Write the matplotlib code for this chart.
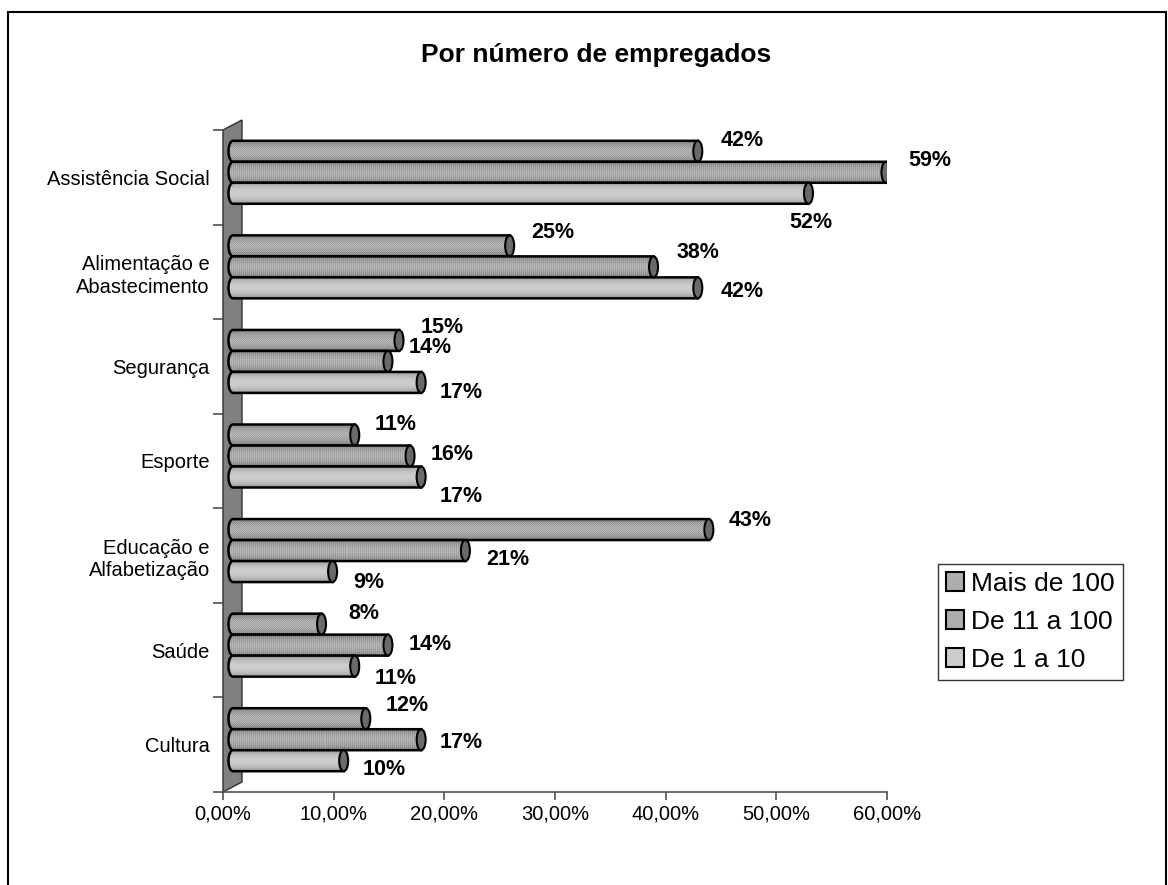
import numpy as np
import matplotlib.pyplot as plt
from matplotlib.patches import Polygon, Ellipse, Patch, Rectangle
from matplotlib.transforms import ScaledTranslation

plt.rcParams['font.family'] = ['Liberation Sans', 'DejaVu Sans']

# dados
categories = ['Assistência Social', 'Alimentação e\nAbastecimento', 'Segurança',
              'Esporte', 'Educação e\nAlfabetização', 'Saúde', 'Cultura']
series_names = ['Mais de 100', 'De 11 a 100', 'De 1 a 10']
mais_100 = [42, 25, 15, 11, 43, 8, 12]
de_11_100 = [59, 38, 14, 16, 21, 14, 17]
de_1_10 = [52, 42, 17, 17, 9, 11, 10]
xticks = [0, 10, 20, 30, 40, 50, 60]

# deslocamento dos rótulos (pixels) em relação ao fim de cada barra
label_dx = [[44, 44, 2], [43, 44, 44], [43, 42, 40], [41, 42, 40],
            [41, 42, 36], [42, 42, 41], [41, 40, 41]]
label_dy = [[-11, -12, 29], [-13, -14, 4], [-13, -14, 10], [-11, -1, 20],
            [-9, 9, 11], [-11, -1, 12], [-13, 3, 9]]

series = [mais_100, de_11_100, de_1_10]
base_grey = [0.68, 0.68, 0.80]

W, H = 1168, 885
fig = plt.figure(figsize=(W / 100, H / 100), dpi=100)
ax = fig.add_axes([223 / W, (H - 792) / H, 664 / W, 662 / H])
n = len(categories)
ax.set_xlim(0, 0.6)
ax.set_ylim(n, 0)
px_x = 664 / 0.6
px_y = 662 / n

# borda do gráfico
fig.patches.append(Rectangle((8 / W, -0.1), 1158 / W, (H - 12) / H + 0.1,
                             transform=fig.transFigure, fill=False,
                             edgecolor='black', lw=1.5))

# parede 3D
wall = Polygon([(0, 0), (19 / px_x, -10 / px_y), (19 / px_x, n - 10 / px_y), (0, n)],
               closed=True, facecolor='#808080', edgecolor='#303030', lw=1,
               clip_on=False, zorder=1)
ax.add_patch(wall)

depth = ScaledTranslation(10 / 100, 5 / 100, fig.dpi_scale_trans)
trans = ax.transData + depth

h = 21 / px_y
ew = 9 / px_x


def cylinder_image(ncols, base, kind):
    rows = 21
    t = (np.arange(rows) + 0.5) / rows
    prof = 0.66 + 0.34 * np.sin(np.pi * t) ** 0.6
    img = np.tile((prof * base)[:, None], (1, ncols))
    ii, jj = np.indices(img.shape)
    if kind == 0:
        img += 0.035 * (((ii + jj) % 2) * 2 - 1)
    elif kind == 1:
        img += 0.04 * ((jj % 2) * 2 - 1)
    return np.clip(img, 0, 1)


for i in range(n):
    for j, vals in enumerate(series):
        v = vals[i] / 100
        yc = i + 0.5 + (j - 1) * h
        y0, y1 = yc - h / 2, yc + h / 2
        ang = np.linspace(np.pi / 2, 3 * np.pi / 2, 30)
        left = [(ew / 2 * np.cos(a), yc - h / 2 * np.sin(a)) for a in ang]
        pts = left + [(v, y1), (v, y0)]
        outline = Polygon(pts, closed=True, fill=False, edgecolor='black',
                          lw=1.8, transform=trans, zorder=4 + i * 3 + j)
        ncols = max(int(v * px_x) + 6, 2)
        im = ax.imshow(cylinder_image(ncols, base_grey[j], j), cmap='gray',
                       vmin=0, vmax=1, interpolation='nearest', aspect='auto',
                       extent=(-ew / 2, v, y1, y0), origin='upper',
                       zorder=3 + i * 3 + j)
        im.set_transform(trans)
        clip = Polygon(pts, closed=True, transform=trans)
        im.set_clip_path(clip)
        ax.add_patch(outline)
        ax.add_patch(Ellipse((v, yc), ew, h, facecolor='#6a6a6a', edgecolor='black',
                             lw=1.5, transform=trans, zorder=4.5 + i * 3 + j))
        ax.annotate(f'{vals[i]}%', xy=(v, yc), xycoords=trans,
                    xytext=(label_dx[i][j], -label_dy[i][j]), textcoords='offset pixels',
                    ha='center', va='center', fontsize=15.5, fontweight='bold',
                    annotation_clip=False, zorder=40)

# eixos
for s in ['top', 'right', 'left']:
    ax.spines[s].set_visible(False)
ax.spines['bottom'].set_color('#505050')
ax.spines['bottom'].set_linewidth(1.2)
ax.set_xticks([x / 100 for x in xticks])
ax.set_xticklabels([f'{x:.2f}%'.replace('.', ',') for x in xticks], fontsize=14.5)
ax.tick_params(axis='x', length=6, width=1.2, color='#505050', pad=3)
ax.set_yticks(range(n + 1))
ax.set_yticklabels([''] * (n + 1))
ax.tick_params(axis='y', which='major', length=7.5, width=1.2, color='#505050')
ax.set_yticks(np.arange(n) + 0.5, minor=True)
ax.set_yticklabels(categories, minor=True, fontsize=14.5, ha='right', linespacing=1.25)
ax.tick_params(axis='y', which='minor', length=0, pad=9.5)

fig.text(596 / W, 1 - 55 / H, 'Por número de empregados', ha='center', va='center',
         fontsize=19, fontweight='bold')

handles = [Patch(facecolor=(g, g, g), edgecolor='black', lw=1.5) for g in base_grey]
leg = fig.legend(handles, series_names, loc='upper left',
                 bbox_to_anchor=(938 / W, 1 - 564 / H), frameon=True, fancybox=False,
                 edgecolor='black', fontsize=19, handlelength=0.7, handleheight=0.7,
                 handletextpad=0.25, labelspacing=0.53, borderpad=0.3, borderaxespad=0)
leg.get_frame().set_linewidth(1.0)

fig.savefig('out.png', dpi=100)
